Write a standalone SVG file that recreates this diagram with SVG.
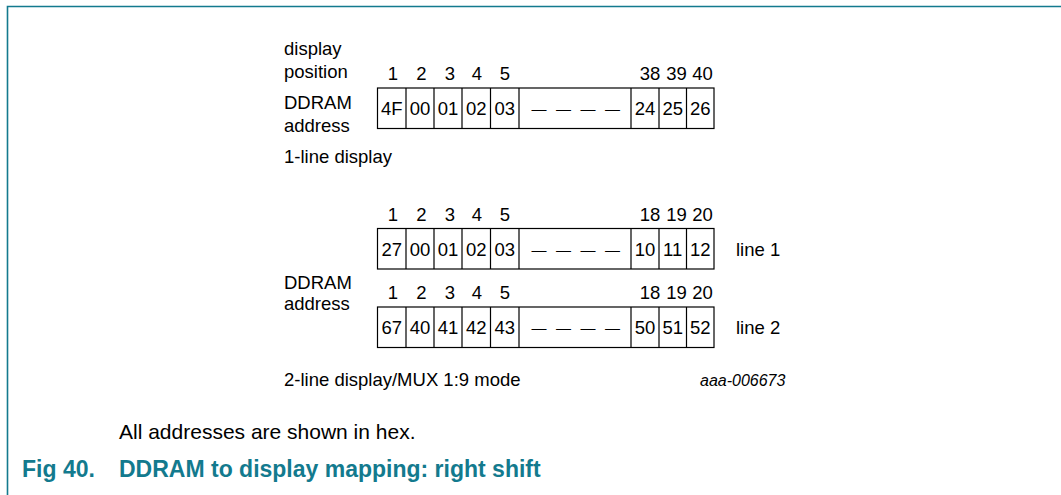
<svg xmlns="http://www.w3.org/2000/svg" width="1061" height="495" viewBox="0 0 1061 495">
<style>
.t{font-family:"Liberation Sans",Arial,sans-serif;font-size:18.5px;fill:#000}
.c{font-family:"Liberation Sans",Arial,sans-serif;font-size:18.5px;fill:#000;text-anchor:middle}
.d{font-family:"Liberation Sans",Arial,sans-serif;font-size:15px;fill:#000;word-spacing:5.3px}
.box{fill:none;stroke:#000;stroke-width:1.2}
.cap{font-family:"Liberation Sans",Arial,sans-serif;font-size:21px;fill:#000}
.ttl{font-family:"Liberation Sans",Arial,sans-serif;font-size:23px;font-weight:bold;fill:#137a8e}
.id{font-family:"Liberation Sans",Arial,sans-serif;font-size:16px;font-style:italic;fill:#000}
</style>
<defs>
<g id="grid">
<rect class="box" x="377.5" y="0" width="336.5" height="40.5"/>
<path class="box" d="M406 0V40.5M434 0V40.5M462 0V40.5M490.5 0V40.5M519 0V40.5M631 0V40.5M659 0V40.5M686.5 0V40.5"/>
</g>
</defs>
<polyline points="7.5,495 7.5,6.5 1061,6.5" fill="none" stroke="#137a8e" stroke-width="1.6"/>

<g id="labels-1line">
<text class="t" x="284" y="54.5">display</text>
<text class="t" x="284" y="78">position</text>
<text class="t" x="284" y="109">DDRAM</text>
<text class="t" x="284" y="131.5">address</text>
<text class="t" x="284" y="163">1-line display</text>
</g>

<g id="positions-1line">
<text class="c" x="393" y="80">1</text><text class="c" x="421.5" y="80">2</text><text class="c" x="450" y="80">3</text><text class="c" x="477" y="80">4</text><text class="c" x="505" y="80">5</text>
<text class="c" x="650" y="80">38</text><text class="c" x="676.5" y="80">39</text><text class="c" x="702.5" y="80">40</text>
</g>

<g id="row-1line">
<use href="#grid" y="88"/>
<text class="c" x="391.7" y="114.5">4F</text><text class="c" x="420" y="114.5">00</text><text class="c" x="448" y="114.5">01</text><text class="c" x="476.2" y="114.5">02</text><text class="c" x="504.7" y="114.5">03</text>
<text class="d" x="531.5" y="114">— — — —</text>
<text class="c" x="645" y="114.5">24</text><text class="c" x="672.7" y="114.5">25</text><text class="c" x="700.2" y="114.5">26</text>
</g>

<g id="positions-line1">
<text class="c" x="393" y="220.5">1</text><text class="c" x="421.5" y="220.5">2</text><text class="c" x="450" y="220.5">3</text><text class="c" x="477" y="220.5">4</text><text class="c" x="505" y="220.5">5</text>
<text class="c" x="650" y="220.5">18</text><text class="c" x="676.5" y="220.5">19</text><text class="c" x="702.5" y="220.5">20</text>
</g>

<g id="row-line1">
<use href="#grid" y="228.5"/>
<text class="c" x="391.7" y="255.5">27</text><text class="c" x="420" y="255.5">00</text><text class="c" x="448" y="255.5">01</text><text class="c" x="476.2" y="255.5">02</text><text class="c" x="504.7" y="255.5">03</text>
<text class="d" x="531.5" y="255">— — — —</text>
<text class="c" x="645" y="255.5">10</text><text class="c" x="672.7" y="255.5">11</text><text class="c" x="700.2" y="255.5">12</text>
<text class="t" x="736" y="255.5">line 1</text>
</g>

<g id="labels-2line">
<text class="t" x="284" y="288.5">DDRAM</text>
<text class="t" x="284" y="310">address</text>
</g>

<g id="positions-line2">
<text class="c" x="393" y="299">1</text><text class="c" x="421.5" y="299">2</text><text class="c" x="450" y="299">3</text><text class="c" x="477" y="299">4</text><text class="c" x="505" y="299">5</text>
<text class="c" x="650" y="299">18</text><text class="c" x="676.5" y="299">19</text><text class="c" x="702.5" y="299">20</text>
</g>

<g id="row-line2">
<use href="#grid" y="307"/>
<text class="c" x="391.7" y="333.5">67</text><text class="c" x="420" y="333.5">40</text><text class="c" x="448" y="333.5">41</text><text class="c" x="476.2" y="333.5">42</text><text class="c" x="504.7" y="333.5">43</text>
<text class="d" x="531.5" y="333">— — — —</text>
<text class="c" x="645" y="333.5">50</text><text class="c" x="672.7" y="333.5">51</text><text class="c" x="700.2" y="333.5">52</text>
<text class="t" x="736" y="333.5">line 2</text>
</g>

<g id="connectors"/>

<g id="footer">
<text class="t" x="284" y="386">2-line display/MUX 1:9 mode</text>
<text class="id" x="700" y="386">aaa-006673</text>
<text class="cap" x="119" y="439">All addresses are shown in hex.</text>
<text class="ttl" x="22" y="477">Fig 40.</text>
<text class="ttl" x="119" y="477">DDRAM to display mapping: right shift</text>
</g>
</svg>
